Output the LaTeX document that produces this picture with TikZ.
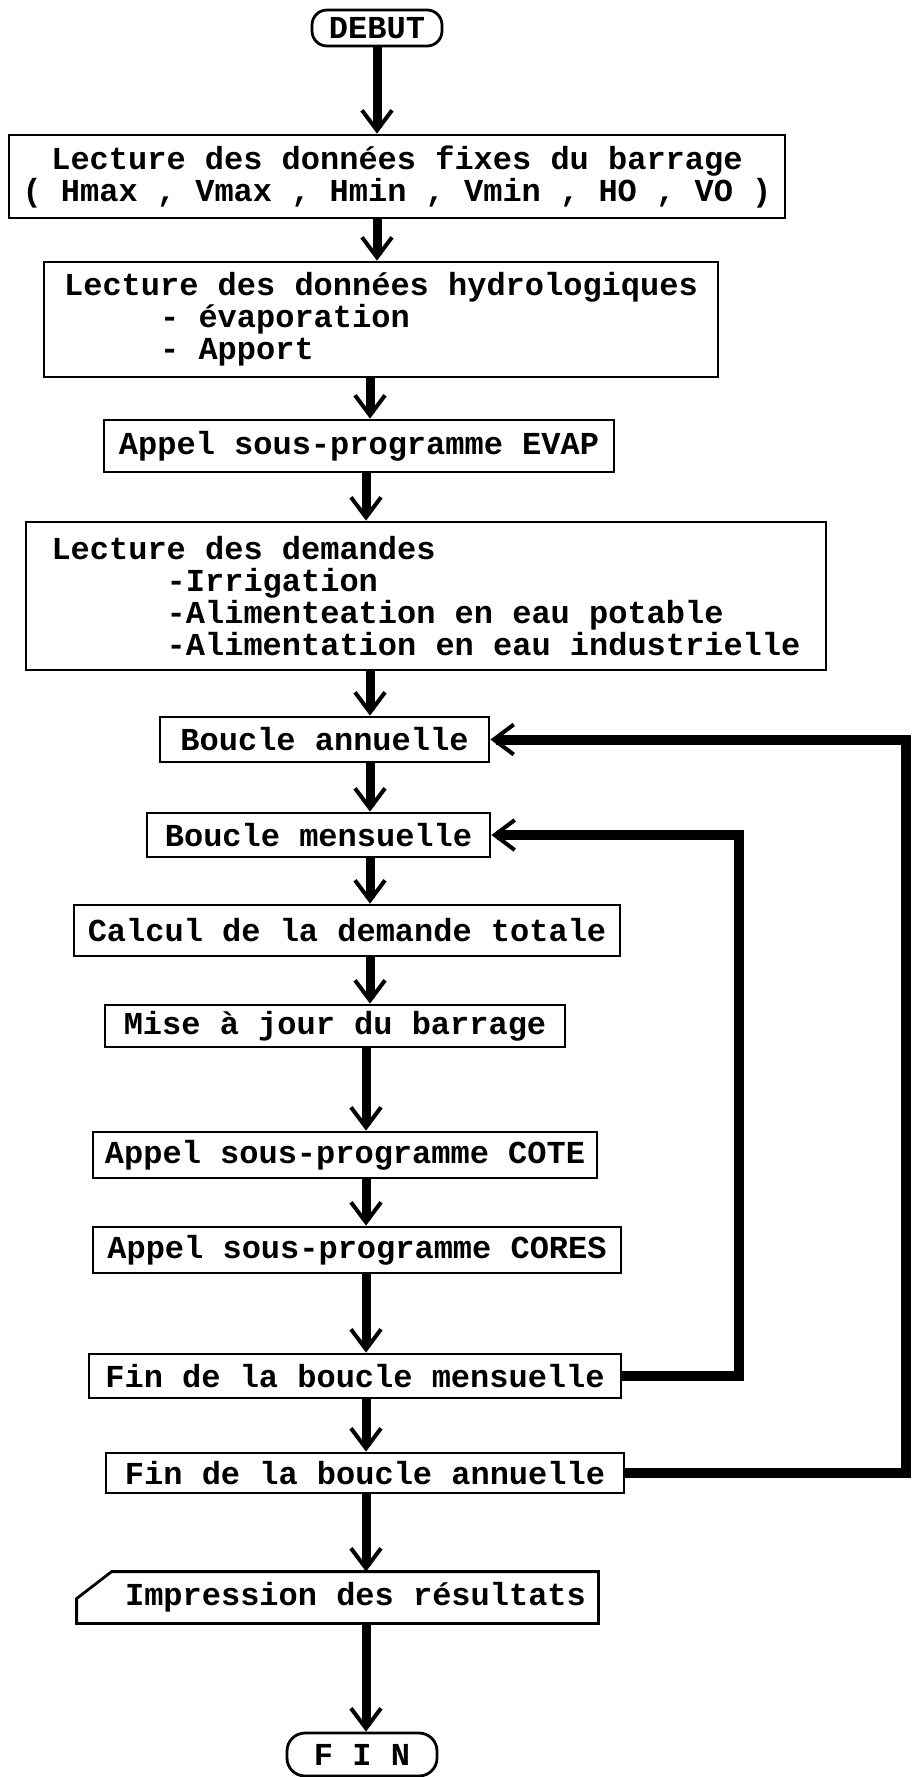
\documentclass[tikz,border=0pt]{standalone}
\usepackage{fontspec}
\newfontfamily\mono{Liberation Mono}
\usetikzlibrary{arrows.meta}
\tikzset{
  box/.style={draw, line width=2.8pt, inner sep=3pt, align=left,
    font=\mono\bfseries\fontsize{32}{32}\selectfont},
  term/.style={box, rounded corners=15pt},
  flow/.style={line width=9pt, -{Straight Barb[length=20pt, width=30pt, line width=4pt 0]}},
  back/.style={line width=10pt, -{Straight Barb[length=20pt, width=30pt, line width=4pt 0]}},
}
\begin{document}
\begin{tikzpicture}[x=1pt, y=-1pt]
\useasboundingbox (0,0) rectangle (912,1777);
\coordinate (k1) at (377,0);
\coordinate (k2) at (370,0);
\coordinate (k3) at (366,0);
\coordinate (rm) at (739,0);
\coordinate (ra) at (906,0);

\node[term, minimum width=130pt, minimum height=36pt] (debut) at (377,28) {DEBUT};
\node[box, align=center, minimum width=776pt, minimum height=83pt] (b1) at (397,176.5)
  {Lecture des données fixes du barrage\\( Hmax , Vmax , Hmin , Vmin , HO , VO )};
\node[box, minimum width=674pt, minimum height=115pt] (b2) at (381,319.5)
  {Lecture des données hydrologiques\\\hspace*{3em}- évaporation\\\hspace*{3em}- Apport};
\node[box, minimum width=510pt, minimum height=52pt] (b3) at (359,446)
  {Appel sous-programme EVAP};
\node[box, minimum width=800pt, minimum height=148pt] (b4) at (426,596)
  {Lecture des demandes\\\hspace*{3.6em}-Irrigation\\\hspace*{3.6em}-Alimenteation en eau potable\\\hspace*{3.6em}-Alimentation en eau industrielle};
\node[box, minimum width=329pt, minimum height=45pt] (ba) at (324.5,739.5) {Boucle annuelle};
\node[box, minimum width=343pt, minimum height=44pt] (bm) at (318.5,835) {Boucle mensuelle};
\node[box, minimum width=546pt, minimum height=51pt] (calc) at (347,930.5) {Calcul de la demande totale};
\node[box, minimum width=460pt, minimum height=42pt] (mise) at (335,1026) {Mise à jour du barrage};
\node[box, minimum width=504pt, minimum height=46pt] (cote) at (345,1155) {Appel sous-programme COTE};
\node[box, minimum width=528pt, minimum height=46pt] (cores) at (357,1250) {Appel sous-programme CORES};
\node[box, minimum width=532pt, minimum height=44pt] (fm) at (355,1376) {Fin de la boucle mensuelle};
\node[box, minimum width=518pt, minimum height=40pt] (fa) at (365,1473) {Fin de la boucle annuelle};
\node[box, draw=none, minimum width=519pt, minimum height=49pt] (imp) at (337.5,1597.5)
  {\hspace*{36pt}Impression des résultats};
\draw[line width=2.8pt] (imp.south west) -- (imp.south east) -- (imp.north east)
  -- ([xshift=35pt]imp.north west) -- ([yshift=-27pt]imp.north west) -- cycle;
\node[term, rounded corners=18pt, minimum width=150pt, minimum height=43pt] (fin) at (362,1754.5) {F I N};

\draw[flow] (debut.south -| k1) -- (b1.north -| k1);
\draw[flow] (b1.south -| k1) -- (b2.north -| k1);
\draw[flow] (b2.south -| k2) -- (b3.north -| k2);
\draw[flow] (b3.south -| k3) -- (b4.north -| k3);
\draw[flow] (b4.south -| k2) -- (ba.north -| k2);
\draw[flow] (ba.south -| k2) -- (bm.north -| k2);
\draw[flow] (bm.south -| k2) -- (calc.north -| k2);
\draw[flow] (calc.south -| k2) -- (mise.north -| k2);
\draw[flow] (mise.south -| k3) -- (cote.north -| k3);
\draw[flow] (cote.south -| k3) -- (cores.north -| k3);
\draw[flow] (cores.south -| k3) -- (fm.north -| k3);
\draw[flow] (fm.south -| k3) -- (fa.north -| k3);
\draw[flow] (fa.south -| k3) -- (imp.north -| k3);
\draw[flow] (imp.south -| k3) -- (fin.north -| k3);

\draw[back] (fm.east) -- (fm.east -| rm) -- (bm.east -| rm) -- (bm.east);
\draw[back] (fa.east) -- (fa.east -| ra) -- (ba.east -| ra) -- (ba.east);
\end{tikzpicture}
\end{document}
